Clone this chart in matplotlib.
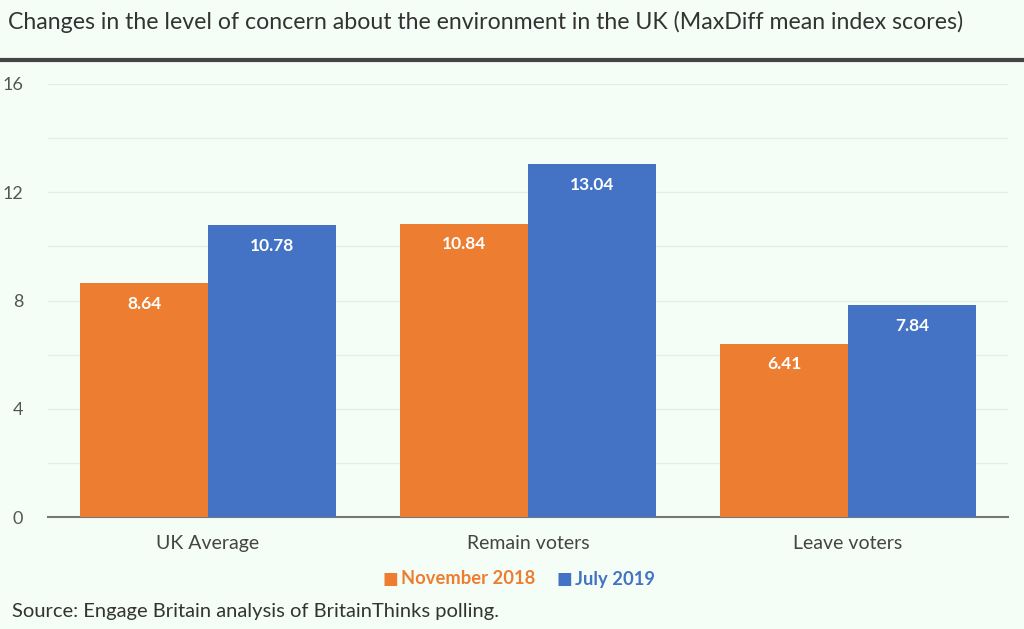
import matplotlib.pyplot as plt
import numpy as np

categories = ["UK Average", "Remain voters", "Leave voters"]
nov_2018 = [8.64, 10.84, 6.41]
jul_2019 = [10.78, 13.04, 7.84]
series_names = ["November 2018", "July 2019"]

orange = "#ED7D31"
blue = "#4472C4"
bg = "#F4FEF7"

plt.rcParams['font.family'] = ['Lato', 'DejaVu Sans']

fig = plt.figure(figsize=(10.24, 6.29), dpi=100, facecolor=bg)
W, H = 1024, 629
# axes: x 48..1008, y 84..517 (pixels from top)
ax = fig.add_axes([48 / W, 1 - 517 / H, 960 / W, (517 - 84) / H], facecolor=bg)

x = np.arange(len(categories))
w = 0.4
b1 = ax.bar(x - w / 2, nov_2018, w, color=orange, zorder=3)
b2 = ax.bar(x + w / 2, jul_2019, w, color=blue, zorder=3)

for bars, vals in [(b1, nov_2018), (b2, jul_2019)]:
    for r, v in zip(bars, vals):
        ax.annotate(f"{v:.2f}", (r.get_x() + r.get_width() / 2, v),
                    xytext=(0, -15), textcoords="offset points",
                    ha="center", va="center", color="white",
                    fontsize=12.5, fontweight="bold")

ax.set_xlim(-0.5, 2.5)
ax.set_ylim(0, 16)
ax.set_yticks([0, 4, 8, 12, 16])
ax.set_yticks([2, 6, 10, 14], minor=True)
ax.grid(axis="y", which="both", color="#E6EDE8", linewidth=1, zorder=0)
ax.tick_params(axis="y", which="both", length=0, labelsize=13,
               labelcolor="#555555", pad=18)
ax.set_xticks(x)
ax.set_xticklabels(categories)
ax.tick_params(axis="x", length=0, labelsize=14, labelcolor="#444444", pad=13)
for s in ["top", "right", "left"]:
    ax.spines[s].set_visible(False)
ax.spines["bottom"].set_color("#777777")
ax.spines["bottom"].set_linewidth(1.5)

# title and rule
fig.text(8 / W, 1 - 22 / H, "Changes in the level of concern about the environment in the UK (MaxDiff mean index scores)",
         fontsize=16.7, color="#333333", va="center", ha="left")
fig.add_artist(plt.Line2D([0, 1], [1 - 60 / H, 1 - 60 / H], color="#444444", linewidth=3,
                          transform=fig.transFigure))

# legend
legend_y = 1 - 579 / H
fig.text(383 / W, legend_y, "\u25A0", color=orange, fontsize=12, va="center", ha="left")
fig.text(401 / W, legend_y, series_names[0], color=orange, fontsize=13.2,
         fontweight="bold", va="center", ha="left")
fig.text(557 / W, legend_y, "\u25A0", color=blue, fontsize=12, va="center", ha="left")
fig.text(575 / W, legend_y, series_names[1], color=blue, fontsize=13.2,
         fontweight="bold", va="center", ha="left")

fig.text(12 / W, 1 - 612 / H, "Source: Engage Britain analysis of BritainThinks polling.",
         fontsize=14.5, color="#333333", va="center", ha="left")

fig.savefig("out.png", dpi=100, facecolor=bg)
